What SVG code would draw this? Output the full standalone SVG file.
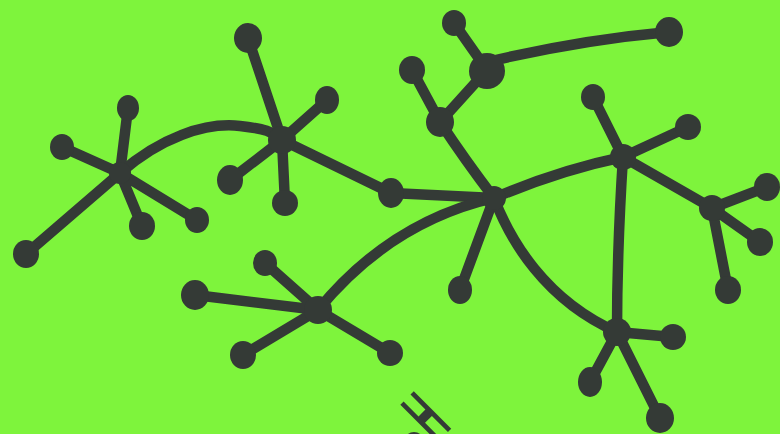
<svg xmlns="http://www.w3.org/2000/svg" width="780" height="434" viewBox="0 0 780 434">
<style>
.bg{fill:#7ef43c}
.e{fill:none;stroke:#343a36;stroke-width:10.5;stroke-linecap:round;stroke-linejoin:round}
.n{fill:#343a36}
.t{font-family:"Liberation Sans",Arial,sans-serif;font-size:77px;font-weight:bold;fill:#343a36}
</style>
<rect class="bg" x="0" y="0" width="780" height="434"/>
<g id="connectors">
<path class="e" d="M120,173 L62,147 M120,173 L128,108 M120,173 L26,254 M120,173 L142,226 M120,173 L197,220"/>
<path class="e" d="M120,173 C160,138 205,122 240,126 S 272,134 282,140"/>
<path class="e" d="M282,140 L248,38 M282,140 L327,100 M282,140 L230,180 M282,140 L285,203 M282,140 L391,193"/>
<path class="e" d="M391,193 L494,198"/>
<path class="e" d="M494,198 L460,290"/>
<path class="e" d="M494,198 Q465,160 440,122 L412,70 M440,122 L487,70 L454,23"/>
<path class="e" d="M487,62 Q580,40 669,32"/>
<path class="e" d="M494,198 Q560,170 623,157"/>
<path class="e" d="M623,157 L593,97 M623,157 L688,127 M623,157 L712,208"/>
<path class="e" d="M712,208 L767,187 M712,208 L760,242 M712,208 L728,290"/>
<path class="e" d="M623,157 Q617,250 617,332"/>
<path class="e" d="M494,198 C510,240 545,300 617,332"/>
<path class="e" d="M617,332 L673,337 M617,332 L590,382 M617,332 L660,418"/>
<path class="e" d="M318,310 Q390,222 494,198"/>
<path class="e" d="M318,310 L195,295 M318,310 L265,263 M318,310 L243,355 M318,310 L390,353"/>
</g>
<g id="hubA"><circle class="n" cx="120" cy="173" r="11"/></g>
<g id="a1"><ellipse class="n" cx="62" cy="147" rx="12" ry="13"/></g>
<g id="a2"><ellipse class="n" cx="128" cy="108" rx="11" ry="13"/></g>
<g id="a3"><ellipse class="n" cx="26" cy="254" rx="13" ry="14"/></g>
<g id="a4"><ellipse class="n" cx="142" cy="226" rx="13" ry="14"/></g>
<g id="a5"><ellipse class="n" cx="197" cy="220" rx="12" ry="13"/></g>
<g id="hubB"><circle class="n" cx="282" cy="140" r="14"/></g>
<g id="b1"><ellipse class="n" cx="248" cy="38" rx="14" ry="15"/></g>
<g id="b2"><ellipse class="n" cx="327" cy="100" rx="12" ry="14"/></g>
<g id="b3"><ellipse class="n" cx="230" cy="180" rx="13" ry="15"/></g>
<g id="b4"><ellipse class="n" cx="285" cy="203" rx="13" ry="13"/></g>
<g id="C"><ellipse class="n" cx="391" cy="193" rx="13" ry="15"/></g>
<g id="hubD"><circle class="n" cx="494" cy="198" r="12"/></g>
<g id="d1"><ellipse class="n" cx="460" cy="290" rx="12" ry="14"/></g>
<g id="E"><ellipse class="n" cx="440" cy="122" rx="14" ry="15"/></g>
<g id="e1"><ellipse class="n" cx="412" cy="70" rx="13" ry="14"/></g>
<g id="F"><ellipse class="n" cx="487" cy="71" rx="18" ry="18"/></g>
<g id="G"><ellipse class="n" cx="454" cy="23" rx="12" ry="13"/></g>
<g id="H"><ellipse class="n" cx="669" cy="32" rx="14" ry="15"/></g>
<g id="hubI"><circle class="n" cx="623" cy="157" r="13"/></g>
<g id="i1"><ellipse class="n" cx="593" cy="97" rx="12" ry="13"/></g>
<g id="i2"><ellipse class="n" cx="688" cy="127" rx="13" ry="13"/></g>
<g id="hubJ"><circle class="n" cx="712" cy="208" r="13"/></g>
<g id="j1"><ellipse class="n" cx="767" cy="187" rx="13" ry="14"/></g>
<g id="j2"><ellipse class="n" cx="760" cy="242" rx="13" ry="14"/></g>
<g id="j3"><ellipse class="n" cx="728" cy="290" rx="13" ry="14"/></g>
<g id="hubK"><circle class="n" cx="617" cy="332" r="14"/></g>
<g id="k1"><ellipse class="n" cx="673" cy="337" rx="13" ry="13"/></g>
<g id="k2"><ellipse class="n" cx="590" cy="382" rx="12" ry="15"/></g>
<g id="k3"><ellipse class="n" cx="660" cy="418" rx="14" ry="15"/></g>
<g id="hubL"><circle class="n" cx="318" cy="310" r="14"/></g>
<g id="l1"><ellipse class="n" cx="195" cy="295" rx="14" ry="15"/></g>
<g id="l2"><ellipse class="n" cx="265" cy="263" rx="12" ry="13"/></g>
<g id="l3"><ellipse class="n" cx="243" cy="355" rx="13" ry="14"/></g>
<g id="l4"><ellipse class="n" cx="390" cy="353" rx="13" ry="13"/></g>
<g id="m1"><ellipse class="n" cx="414" cy="444" rx="11" ry="12"/></g>
<g id="label"><text class="t" text-anchor="middle" transform="translate(425,416) rotate(-45) scale(0.42,1)" x="0" y="27.5">H</text></g>
</svg>
